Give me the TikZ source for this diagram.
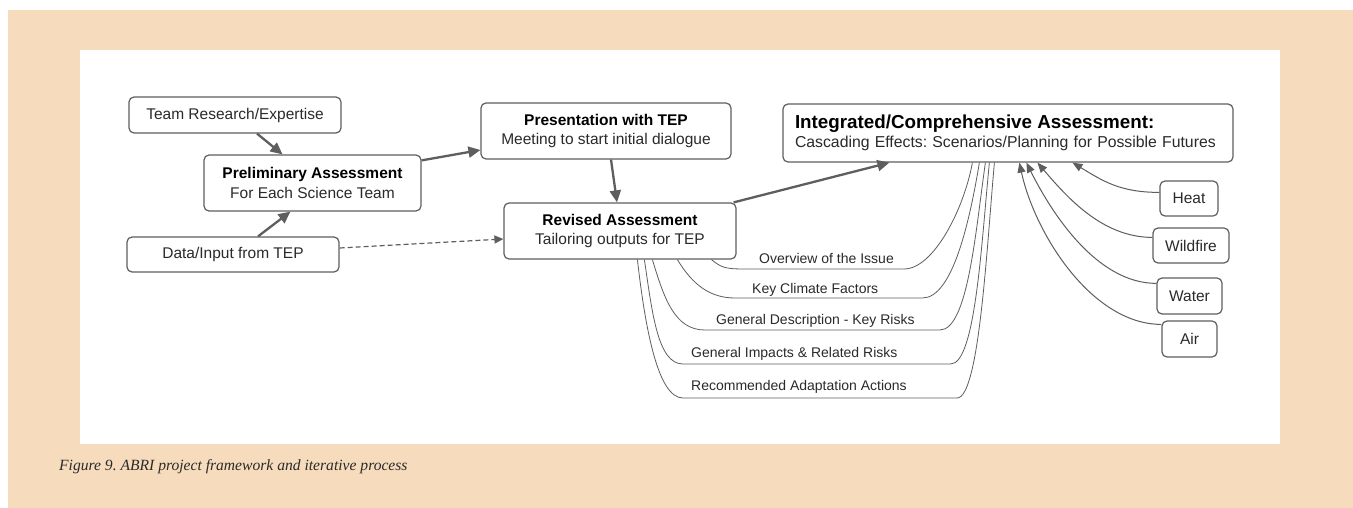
\documentclass[tikz,border=0pt]{standalone}
\usepackage{fontspec}
\setmainfont{Liberation Sans}
\newfontfamily\capfont{Liberation Serif}
\usetikzlibrary{arrows.meta,positioning}
\frenchspacing

\definecolor{peach}{HTML}{F6DCBC}
\definecolor{edgegray}{HTML}{5E5E5E}
\definecolor{inkgray}{HTML}{2A2A2A}

\begin{document}
\begin{tikzpicture}[
        x=1pt, y=-1pt,
        box/.style={
            rectangle, rounded corners=5pt, draw=edgegray, line width=1.2pt, fill=white,
            align=center, inner sep=0pt, text=inkgray,
            font=\fontsize{15.5}{19.5}\selectfont
        },
        topic/.style={
            anchor=base west, inner sep=0pt, text depth=0pt, text=inkgray,
            font=\fontsize{14}{16}\selectfont
        },
        heavy/.style={-{Triangle[length=12pt,width=11pt]}, line width=2.3pt, draw=edgegray},
        darr/.style={-{Triangle[length=9pt,width=8pt]}, line width=1.2pt, dash pattern=on 5pt off 3pt, draw=edgegray},
        farr/.style={-{Triangle[length=10pt,width=8pt]}, line width=1pt, draw=edgegray},
        branch/.style={line width=0.8pt, draw=edgegray}
    ]
    % Page and panel
    \useasboundingbox (0,0) rectangle (1353,508);
    \fill[white] (0,0) rectangle (1353,508);
    \fill[peach] (8,10) rectangle (1353,508);
    \fill[white] (80,50) rectangle (1280,444);

    % Process boxes
    \node[box, minimum width=212pt, minimum height=36pt] (team) at (235,115) {Team Research/Expertise};
    \node[box, minimum width=217pt, minimum height=56pt] (prelim) at (312.5,183)
        {{\bfseries\color{black}Preliminary Assessment}\\For Each Science Team};
    \node[box, minimum width=212pt, minimum height=35pt] (data) at (233,254.5) {Data/Input from TEP};
    \node[box, minimum width=250pt, minimum height=56pt] (present) at (606,131)
        {{\bfseries\color{black}Presentation with TEP}\\Meeting to start initial dialogue};
    \node[box, minimum width=232pt, minimum height=56pt] (revised) at (620,231)
        {{\bfseries\color{black}Revised Assessment}\\Tailoring outputs for TEP};
    \node[box, align=left, text width=426pt, inner xsep=12pt, minimum height=58pt] (integ) at (1008,133)
        {{\fontsize{18.8}{20}\selectfont\bfseries\color{black}Integrated/Comprehensive Assessment:}\\
         {\fontsize{15.8}{19}\selectfont Cascading Effects: Scenarios/Planning for Possible Futures}};

    % Hazard boxes
    \node[box, minimum width=58pt, minimum height=35pt] (heat) at (1189,198.5) {Heat};
    \node[box, minimum width=76pt, minimum height=35pt] (fire) at (1191,245.5) {Wildfire};
    \node[box, minimum width=65pt, minimum height=36pt] (water) at (1189.5,296) {Water};
    \node[box, minimum width=55pt, minimum height=36pt] (air) at (1189.5,339) {Air};

    % Output topics
    \node[topic] (o1) at (759,263) {Overview of the Issue};
    \node[topic] (o2) at (752,293) {Key Climate Factors};
    \node[topic] (o3) at (716,324) {General Description - Key Risks};
    \node[topic] (o4) at (691,357) {General Impacts \& Related Risks};
    \node[topic] (o5) at (691,390) {Recommended Adaptation Actions};

    % Arrows: main process
    \draw[heavy] ([xshift=22pt]team.south) -- ([xshift=-30pt]prelim.north);
    \draw[heavy] ([xshift=25pt]data.north) -- ([xshift=-22pt]prelim.south);
    \draw[heavy] ([yshift=-6pt]prelim.north east) -- ([yshift=-19pt]present.west);
    \draw[heavy] ([xshift=5pt]present.south) -- ([xshift=-3pt]revised.north);
    \draw[heavy] ([xshift=-3pt]revised.north east) -- ([xshift=107pt]integ.south west);
    \draw[darr] ([yshift=6.5pt]data.east) -- ([yshift=-8pt]revised.west);

    % Branches: revised -> topics -> integrated
    \draw[branch] ([xshift=208pt]revised.south west) .. controls +(10,8) and +(-20,0) ..
        ([shift={(-14pt,-6pt)}]o1.base west) -- ([shift={(10pt,-6pt)}]o1.base east)
        .. controls +(30,0) and +(-8,45) .. ([xshift=190pt]integ.south west);
    \draw[branch] ([xshift=174pt]revised.south west) .. controls +(15,25) and +(-25,0) ..
        ([shift={(-17pt,-5pt)}]o2.base west) -- ([shift={(44pt,-5pt)}]o2.base east)
        .. controls +(30,0) and +(-10,60) .. ([xshift=197pt]integ.south west);
    \draw[branch] ([xshift=149pt]revised.south west) .. controls +(12,40) and +(-30,0) ..
        ([shift={(-11pt,-6pt)}]o3.base west) -- ([shift={(25pt,-6pt)}]o3.base east)
        .. controls +(28,0) and +(-10,70) .. ([xshift=203pt]integ.south west);
    \draw[branch] ([xshift=141pt]revised.south west) .. controls +(8,55) and +(-25,0) ..
        ([shift={(-8pt,-7pt)}]o4.base west) -- ([shift={(53pt,-7pt)}]o4.base east)
        .. controls +(25,0) and +(-8,80) .. ([xshift=207pt]integ.south west);
    \draw[branch] ([xshift=134pt]revised.south west) .. controls +(8,70) and +(-25,0) ..
        ([shift={(-8pt,-8pt)}]o5.base west) -- ([shift={(50pt,-8pt)}]o5.base east)
        .. controls +(22,0) and +(-8,90) .. ([xshift=212pt]integ.south west);

    % Arrows: hazards -> integrated
    \draw[farr] ([yshift=-12pt]heat.north west) .. controls +(-40,0) and +(30,18) .. ([xshift=290pt]integ.south west);
    \draw[farr] ([yshift=-10pt]fire.north west) .. controls +(-50,0) and +(30,35) .. ([xshift=255pt]integ.south west);
    \draw[farr] ([yshift=-6pt]water.north west) .. controls +(-60,0) and +(25,50) .. ([xshift=244pt]integ.south west);
    \draw[farr] ([yshift=-4pt]air.north west) .. controls +(-70,0) and +(15,70) .. ([xshift=237pt]integ.south west);

    % Caption
    \node[anchor=base west, inner sep=0pt, text=inkgray, font=\capfont\itshape\fontsize{15.6}{18}\selectfont] (caption) at (59,470)
        {Figure 9. ABRI project framework and iterative process};
\end{tikzpicture}
\end{document}
